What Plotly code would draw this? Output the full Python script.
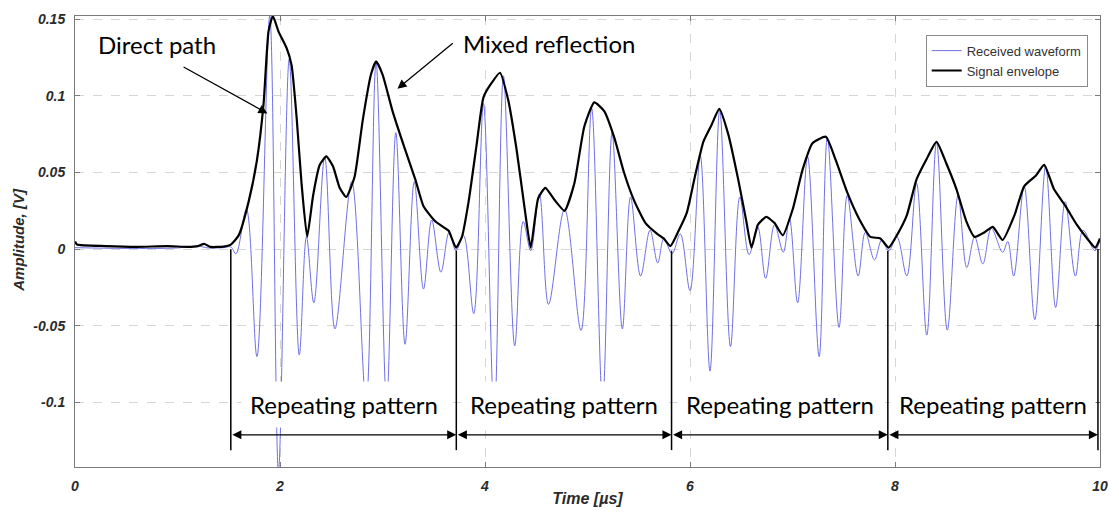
import plotly.graph_objects as go

# Received waveform: successive peaks and troughs (time in µs, amplitude in V)
wave_t = [0.0, 0.5, 1.0, 1.2, 1.3, 1.45, 1.52, 1.57, 1.672, 1.775, 1.90, 1.985,
          2.09, 2.188, 2.258, 2.33, 2.436, 2.536, 2.70, 2.84, 2.937, 3.04, 3.13,
          3.22, 3.31, 3.40, 3.48, 3.57, 3.65, 3.717, 3.79, 3.89, 3.985, 4.09,
          4.18, 4.29, 4.373, 4.446, 4.53, 4.62, 4.776, 4.937, 5.04, 5.147, 5.24,
          5.34, 5.42, 5.518, 5.61, 5.685, 5.745, 5.825, 5.905, 6.0, 6.10, 6.195,
          6.29, 6.395, 6.486, 6.576, 6.66, 6.738, 6.825, 6.91, 6.97, 7.05, 7.147,
          7.26, 7.34, 7.454, 7.534, 7.64, 7.71, 7.80, 7.87, 7.94, 8.018, 8.115,
          8.21, 8.31, 8.405, 8.51, 8.615, 8.70, 8.777, 8.857, 8.94, 9.05, 9.10,
          9.158, 9.26, 9.364, 9.47, 9.567, 9.66, 9.76, 9.835, 9.95, 10.0]
wave_v = [0.001, 0.0005, 0.0008, 0.002, 0.0008, 0.001, 0.0015, -0.003, 0.026,
          -0.070, 0.152, -0.145, 0.124, -0.069, 0.008, -0.035, 0.060, -0.052,
          0.044, -0.100, 0.122, -0.100, 0.076, -0.062, 0.044, -0.026, 0.019,
          -0.015, 0.011, -0.001, 0.009, -0.042, 0.095, -0.110, 0.113, -0.063,
          0.018, -0.001, 0.036, -0.036, 0.026, -0.053, 0.092, -0.100, 0.076,
          -0.052, 0.034, -0.0175, 0.0124, -0.009, 0.007, -0.003, 0.010, -0.027,
          0.061, -0.0795, 0.091, -0.0635, 0.034, -0.0036, 0.0145, -0.019, 0.016,
          -0.002, 0.020, -0.035, 0.0605, -0.070, 0.073, -0.051, 0.035, -0.0175,
          0.011, -0.007, 0.006, -0.001, 0.008, -0.0175, 0.043, -0.056, 0.070,
          -0.0528, 0.035, -0.012, 0.008, -0.0096, 0.0135, -0.002, 0.005, -0.0175,
          0.041, -0.046, 0.054, -0.038, 0.031, -0.0175, 0.0124, -0.001, 0.006]

# Signal envelope
env_t = [0.0, 0.02, 0.3, 0.6, 0.9, 1.1, 1.2, 1.26, 1.32, 1.45, 1.52, 1.597, 1.694,
         1.775, 1.84, 1.888, 1.93, 1.985, 2.065, 2.113, 2.162, 2.21, 2.265, 2.323,
         2.388, 2.452, 2.517, 2.582, 2.646, 2.727, 2.807, 2.888, 2.937, 3.0, 3.098,
         3.21, 3.32, 3.40, 3.517, 3.614, 3.646, 3.717, 3.775, 3.84, 3.92, 3.985,
         4.066, 4.146, 4.227, 4.308, 4.388, 4.446, 4.518, 4.589, 4.679, 4.776,
         4.872, 4.969, 5.066, 5.163, 5.26, 5.356, 5.453, 5.566, 5.68, 5.743, 5.808,
         5.889, 5.97, 6.05, 6.13, 6.21, 6.286, 6.373, 6.47, 6.55, 6.6, 6.663, 6.744,
         6.825, 6.905, 7.002, 7.099, 7.195, 7.325, 7.422, 7.534, 7.648, 7.76,
         7.857, 7.938, 8.018, 8.115, 8.21, 8.31, 8.405, 8.50, 8.6, 8.697, 8.777,
         8.874, 8.954, 9.05, 9.165, 9.26, 9.375, 9.455, 9.552, 9.664, 9.777, 9.874,
         9.954, 10.0]
env_v = [0.005, 0.003, 0.002, 0.0015, 0.002, 0.0015, 0.002, 0.0035, 0.0015, 0.0017,
         0.003, 0.009, 0.031, 0.058, 0.095, 0.142, 0.152, 0.142, 0.131, 0.120,
         0.086, 0.043, 0.008, 0.035, 0.055, 0.0605, 0.054, 0.040, 0.034, 0.047,
         0.084, 0.114, 0.1224, 0.114, 0.090, 0.067, 0.0455, 0.028, 0.018, 0.0135,
         0.012, 0.001, 0.008, 0.031, 0.069, 0.099, 0.1085, 0.115, 0.097, 0.065,
         0.026, 0.001, 0.033, 0.040, 0.032, 0.025, 0.043, 0.080, 0.0957, 0.090,
         0.073, 0.050, 0.032, 0.017, 0.010, 0.007, 0.002, 0.012, 0.024, 0.048,
         0.070, 0.081, 0.0915, 0.075, 0.0455, 0.018, 0.001, 0.016, 0.021, 0.017,
         0.009, 0.026, 0.052, 0.069, 0.0733, 0.058, 0.037, 0.020, 0.008, 0.007,
         0.001, 0.009, 0.022, 0.0455, 0.059, 0.070, 0.056, 0.039, 0.018, 0.008,
         0.011, 0.0145, 0.006, 0.022, 0.041, 0.048, 0.055, 0.039, 0.028, 0.0156,
         0.007, 0.001, 0.007]

# Boundaries of the repeating segments (µs)
pattern_bounds = [1.52, 3.72, 5.82, 7.93, 9.98]
pattern_label = "Repeating pattern"

y_ticks = [-0.1, -0.05, 0, 0.05, 0.1, 0.15]
y_tick_text = ["-0.1", "-0.05", "0", "0.05", "0.1", "0.15"]
x_ticks = [0, 2, 4, 6, 8, 10]

AX_FONT = dict(family="Liberation Sans, Arial, sans-serif", size=14,
               color="#2b2b2b", weight="bold", style="italic")
TITLE_FONT = dict(AX_FONT, size=15)
XTITLE_FONT = dict(AX_FONT, size=16)
NOTE_FONT = dict(family="Lato, Open Sans, sans-serif", size=24, color="black")

fig = go.Figure()
fig.add_trace(go.Scatter(
    x=wave_t, y=wave_v, mode="lines", name="Received waveform",
    line=dict(color="rgb(112,112,228)", width=1, shape="spline", smoothing=1.0),
))
fig.add_trace(go.Scatter(
    x=env_t, y=env_v, mode="lines", name="Signal envelope",
    line=dict(color="black", width=2.2, shape="spline", smoothing=0.5),
))

shapes = []
annotations = []

# Segment boundary markers and double-headed arrows
bound_top = [0.0, -0.001, -0.001, -0.001, 0.0]
for b, top in zip(pattern_bounds, bound_top):
    shapes.append(dict(type="line", xref="x", yref="y", x0=b, x1=b,
                       y0=top, y1=-0.131, line=dict(color="black", width=1.5)))
for a, b in zip(pattern_bounds[:-1], pattern_bounds[1:]):
    annotations.append(dict(
        x=b, y=-0.121, ax=a, ay=-0.121, xref="x", yref="y", axref="x", ayref="y",
        text="", showarrow=True, arrowhead=2, startarrowhead=2, arrowside="end+start",
        arrowsize=1.4, arrowwidth=1.3, arrowcolor="black", standoff=0, startstandoff=0,
    ))
    annotations.append(dict(
        x=(a + b) / 2, y=-0.1015, xref="x", yref="y", text=pattern_label,
        showarrow=False, font=NOTE_FONT, bgcolor="white", borderpad=8,
    ))

# Callouts
annotations += [
    dict(x=0.80, y=0.1335, xref="x", yref="y", text="Direct path", showarrow=False,
         font=NOTE_FONT, bgcolor="white", borderpad=2),
    dict(x=1.878, y=0.0885, ax=1.045, ay=0.1193, xref="x", yref="y", axref="x",
         ayref="y", text="", showarrow=True, arrowhead=2, arrowsize=1.4,
         arrowwidth=1.3, arrowcolor="black", standoff=0, startstandoff=0),
    dict(x=4.62, y=0.134, xref="x", yref="y", text="Mixed reflection",
         showarrow=False, font=NOTE_FONT, bgcolor="white", borderpad=2),
    dict(x=3.146, y=0.1045, ax=3.70, ay=0.135, xref="x", yref="y", axref="x",
         ayref="y", text="", showarrow=True, arrowhead=2, arrowsize=1.4,
         arrowwidth=1.3, arrowcolor="black", standoff=0, startstandoff=0),
    dict(x=-0.055, y=0.503, xref="paper", yref="paper", text="Amplitude, [V]",
         textangle=-90, showarrow=False, font=TITLE_FONT,
         xanchor="center", yanchor="middle"),
]

axis_common = dict(
    showline=True, linecolor="#7a7a7a", linewidth=1, mirror="ticks",
    ticks="inside", ticklen=5, tickcolor="#7a7a7a",
    showgrid=True, gridcolor="#d6d6d6", griddash="dash", gridwidth=1,
    zeroline=False, tickfont=AX_FONT,
)

fig.update_layout(
    width=1119, height=516,
    margin=dict(l=75, r=11, t=14, b=43),
    paper_bgcolor="white", plot_bgcolor="white",
    xaxis=dict(range=[0, 10], tickvals=x_ticks, ticklabelstandoff=6,
               title=dict(text="Time [µs]", font=XTITLE_FONT, standoff=0),
               **axis_common),
    yaxis=dict(range=[-0.142, 0.152], tickvals=y_ticks, ticktext=y_tick_text,
               ticklabelstandoff=6, **axis_common),
    legend=dict(x=0.988, y=0.9586, xanchor="right", yanchor="top",
                bgcolor="white", bordercolor="#8a8a8a", borderwidth=1,
                font=dict(family="Liberation Sans, Arial, sans-serif", size=13,
                          color="#333333"),
                tracegroupgap=0),
    shapes=shapes,
    annotations=annotations,
    showlegend=True,
)

fig.write_html("out.html")
